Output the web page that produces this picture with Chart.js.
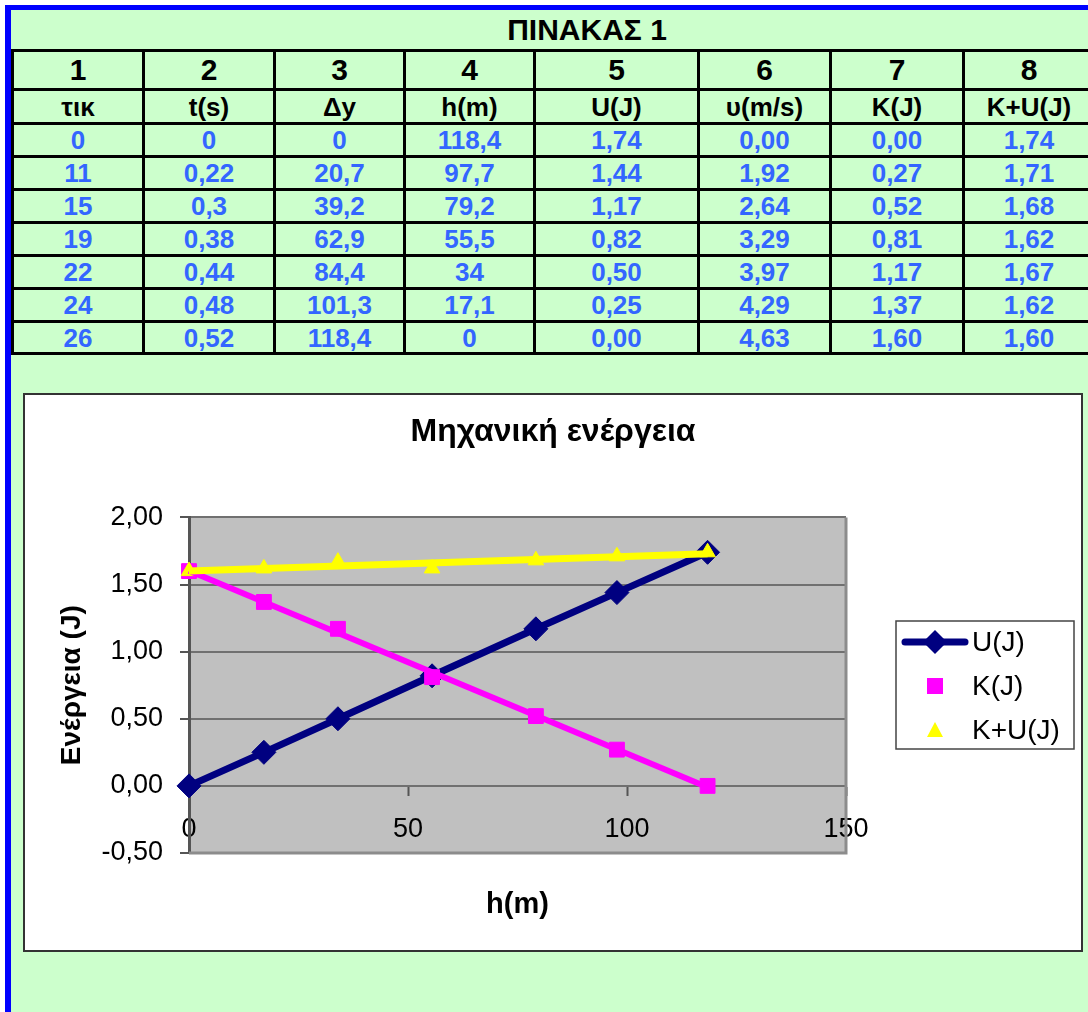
<!DOCTYPE html>
<html>
<head>
<meta charset="utf-8">
<script src="https://cdn.jsdelivr.net/npm/chart.js@4"></script>
<style>
  html, body { margin: 0; padding: 0; }
  body { width: 1088px; height: 1012px; overflow: hidden; position: relative; background: #fff;
         font-family: 'Liberation Sans', Arial, sans-serif; }
  #sheet { position: absolute; left: 5px; top: 5px; width: 1200px; height: 1100px; background: #CCFFCC;
           border-left: 6px solid #0000FF; border-top: 5px solid #0000FF; }
  .ln { position: absolute; background: #000; }
  .cell { position: absolute; display: flex; align-items: center; justify-content: center;
          font-weight: bold; line-height: 1; white-space: nowrap; }
  #chartBox { position: absolute; left: 23px; top: 393px; width: 1060px; height: 559px; box-sizing: border-box;
              border: 2px solid #333; background: #fff; }
  #chartBox canvas { display: block; }
</style>
</head>
<body>
<div id="sheet"></div>
<div id="tbl"></div>
<div id="chartBox"><canvas id="c" width="1056" height="555"></canvas></div>
<script>
// ---- table data (ΠΙΝΑΚΑΣ 1) ----
const tableTitle = 'ΠΙΝΑΚΑΣ 1';
const colNumbers = ['1', '2', '3', '4', '5', '6', '7', '8'];
const colLabels = ['τικ', 't(s)', 'Δy', 'h(m)', 'U(J)', 'υ(m/s)', 'K(J)', 'K+U(J)'];
const tik = [0, 11, 15, 19, 22, 24, 26];
const tSec = [0, 0.22, 0.3, 0.38, 0.44, 0.48, 0.52];
const dy = [0, 20.7, 39.2, 62.9, 84.4, 101.3, 118.4];
const hM = [118.4, 97.7, 79.2, 55.5, 34, 17.1, 0];
const U = [1.74, 1.44, 1.17, 0.82, 0.50, 0.25, 0.00];
const vel = [0.00, 1.92, 2.64, 3.29, 3.97, 4.29, 4.63];
const K = [0.00, 0.27, 0.52, 0.81, 1.17, 1.37, 1.60];
const KU = [1.74, 1.71, 1.68, 1.62, 1.67, 1.62, 1.60];

// ---- chart texts and axis ticks ----
const chartTitle = 'Μηχανική ενέργεια';
const xTitle = 'h(m)';
const yTitle = 'Ενέργεια (J)';
const seriesNames = ['U(J)', 'K(J)', 'K+U(J)'];
const xTicks = [0, 50, 100, 150];
const yTicks = [-0.5, 0, 0.5, 1.0, 1.5, 2.0];

// ---- spreadsheet grid ----
const columns = [tik, tSec, dy, hM, U, vel, K, KU];
const decimals = [null, null, null, null, 2, 2, 2, 2];
const colLines = [11, 142, 273, 403, 533, 697, 829, 962, 1093];
const rowLines = [49, 88, 122, 155, 188, 221, 254, 287, 320, 352];
const LW = 3;

function fmt(v, d) {
  const s = d == null ? String(v) : v.toFixed(d);
  return s.replace('.', ',');
}

const tbl = document.getElementById('tbl');
function addDiv(cls, x, y, w, h, text, style) {
  const d = document.createElement('div');
  d.className = cls;
  d.style.left = x + 'px'; d.style.top = y + 'px';
  d.style.width = w + 'px'; d.style.height = h + 'px';
  if (text != null) d.textContent = text;
  if (style) Object.assign(d.style, style);
  tbl.appendChild(d);
  return d;
}

// title row spanning the merged cells
addDiv('cell', 11, 10, 1152, 39, tableTitle, { fontSize: '30px', color: '#000' });

const rowsText = [colNumbers, colLabels];
for (let r = 0; r < tik.length; r++) {
  rowsText.push(columns.map((col, c) => fmt(col[r], decimals[c])));
}
for (let r = 0; r < rowsText.length; r++) {
  const y0 = rowLines[r] + LW, y1 = rowLines[r + 1];
  for (let c = 0; c < 8; c++) {
    const x0 = colLines[c] + LW, x1 = colLines[c + 1];
    const style = r === 0 ? { fontSize: '30px', color: '#000' }
                : r === 1 ? { fontSize: '26px', color: '#000' }
                : { fontSize: '26px', color: '#3366FF' };
    addDiv('cell', x0, y0, x1 - x0, y1 - y0, rowsText[r][c], style);
  }
}
for (const y of rowLines) addDiv('ln', 11, y, 1200, LW);
for (const x of colLines) addDiv('ln', x, rowLines[0], LW, rowLines[rowLines.length - 1] + LW - rowLines[0]);

// ---- chart ----
const FONT = "'Liberation Sans', Arial, sans-serif";
Chart.defaults.font.family = FONT;
Chart.defaults.color = '#000';

const pts = (ys) => hM.map((x, i) => ({ x: x, y: ys[i] }));

// least-squares linear trendline over the range of h
function linearTrend(xs, ys) {
  const n = xs.length;
  const mx = xs.reduce((a, b) => a + b, 0) / n;
  const my = ys.reduce((a, b) => a + b, 0) / n;
  let sxy = 0, sxx = 0;
  for (let i = 0; i < n; i++) { sxy += (xs[i] - mx) * (ys[i] - my); sxx += (xs[i] - mx) ** 2; }
  const b = sxy / sxx, a = my - b * mx;
  const lo = Math.min(...xs), hi = Math.max(...xs);
  return [{ x: lo, y: a + b * lo }, { x: hi, y: a + b * hi }];
}

const NAVY = '#000080', MAGENTA = '#FF00FF', YELLOW = '#FFFF00';

const plotFrame = {
  id: 'plotFrame',
  beforeDraw(chart) {
    const { ctx, chartArea: a } = chart;
    ctx.save();
    ctx.fillStyle = '#C0C0C0';
    ctx.fillRect(a.left, a.top, a.right - a.left, a.bottom - a.top);
    ctx.restore();
  },
  beforeDatasetsDraw(chart) {
    const { ctx, chartArea: a } = chart;
    ctx.save();
    ctx.strokeStyle = '#8c8c8c';
    ctx.lineWidth = 3;
    ctx.beginPath();
    ctx.moveTo(a.left, a.bottom);
    ctx.lineTo(a.right, a.bottom);
    ctx.lineTo(a.right, a.top);
    ctx.stroke();
    ctx.restore();
  }
};

const boxedLegend = {
  id: 'boxedLegend',
  afterDraw(chart) {
    const { ctx } = chart;
    const bx = 871, by = 226, bw = 178, bh = 128;
    ctx.save();
    ctx.strokeStyle = '#444';
    ctx.lineWidth = 1.5;
    ctx.strokeRect(bx, by, bw, bh);
    const sx = 910, tx = 947;
    const rows = [247, 291, 335];
    // U(J): line with diamond
    ctx.strokeStyle = NAVY; ctx.lineWidth = 7; ctx.lineCap = 'round';
    ctx.beginPath(); ctx.moveTo(sx - 30, rows[0]); ctx.lineTo(sx + 30, rows[0]); ctx.stroke();
    ctx.fillStyle = NAVY;
    ctx.beginPath();
    ctx.moveTo(sx - 12, rows[0]); ctx.lineTo(sx, rows[0] - 12); ctx.lineTo(sx + 12, rows[0]); ctx.lineTo(sx, rows[0] + 12);
    ctx.closePath(); ctx.fill();
    // K(J): square
    ctx.fillStyle = MAGENTA;
    ctx.fillRect(sx - 8, rows[1] - 8, 16, 16);
    // K+U(J): triangle
    ctx.fillStyle = YELLOW;
    ctx.beginPath();
    ctx.moveTo(sx, rows[2] - 8); ctx.lineTo(sx + 8, rows[2] + 7); ctx.lineTo(sx - 8, rows[2] + 7);
    ctx.closePath(); ctx.fill();
    ctx.fillStyle = '#000';
    ctx.font = '28px ' + FONT;
    ctx.textBaseline = 'middle';
    ctx.textAlign = 'left';
    seriesNames.forEach((s, i) => ctx.fillText(s, tx, rows[i] + 1));
    ctx.restore();
  }
};

new Chart(document.getElementById('c'), {
  type: 'scatter',
  data: {
    datasets: [
      { label: 'K+U trend', data: linearTrend(hM, KU), showLine: true, borderColor: YELLOW, borderWidth: 7,
        pointRadius: 0, order: 1, clip: false },
      { label: 'K trend', data: linearTrend(hM, K), showLine: true, borderColor: MAGENTA, borderWidth: 6,
        pointRadius: 0, order: 2, clip: false },
      { label: seriesNames[2], data: pts(KU), showLine: false, pointStyle: 'triangle', pointRadius: 9,
        backgroundColor: YELLOW, borderColor: YELLOW, pointBorderWidth: 1, order: 3, clip: false },
      { label: seriesNames[1], data: pts(K), showLine: false, pointStyle: 'rect', pointRadius: 10.5,
        backgroundColor: MAGENTA, borderColor: MAGENTA, pointBorderWidth: 1, order: 4, clip: false },
      { label: seriesNames[0], data: pts(U), showLine: true, borderColor: NAVY, borderWidth: 7,
        pointStyle: 'rectRot', pointRadius: 12, pointBackgroundColor: NAVY, pointBorderColor: NAVY,
        pointBorderWidth: 1, order: 5, clip: false }
    ]
  },
  options: {
    responsive: false,
    animation: false,
    events: [],
    layout: { padding: { left: 0, right: 0, top: 0, bottom: 97 } },
    plugins: {
      legend: { display: false },
      tooltip: { enabled: false },
      title: { display: true, text: chartTitle, font: { size: 32, weight: 'bold' },
               padding: { top: 18, bottom: 66 }, color: '#000' }
    },
    scales: {
      x: {
        type: 'linear', position: { y: 0 }, min: xTicks[0], max: xTicks[xTicks.length - 1],
        afterBuildTicks(scale) { scale.ticks = xTicks.map(v => ({ value: v })); },
        ticks: { font: { size: 27 }, padding: 18, color: '#000', maxRotation: 0, callback: v => String(v) },
        grid: { drawOnChartArea: false, drawTicks: true, tickLength: 9, tickColor: '#555', tickWidth: 2 },
        border: { display: true, color: '#707070', width: 2 },
        title: { display: true, text: xTitle, font: { size: 29, weight: 'bold' }, padding: { top: 24, bottom: 0 }, color: '#000' }
      },
      y: {
        type: 'linear', min: yTicks[0], max: yTicks[yTicks.length - 1],
        afterBuildTicks(scale) { scale.ticks = yTicks.map(v => ({ value: v })); },
        afterFit(scale) { scale.width = 164; },
        ticks: { font: { size: 27 }, padding: 17, color: '#000', callback: v => v.toFixed(2).replace('.', ',') },
        grid: { color: '#707070', lineWidth: 2, tickLength: 9, tickColor: '#555', tickWidth: 2 },
        border: { display: true, color: '#555', width: 3 },
        title: { display: true, text: yTitle, font: { size: 28, weight: 'bold' }, padding: { top: 30, bottom: 0 }, color: '#000' }
      },
      // empty right-hand band that holds the legend area
      legendBand: {
        type: 'linear', position: 'right', display: true,
        grid: { display: false, drawTicks: false }, ticks: { display: false }, border: { display: false },
        afterFit(scale) { scale.width = 235; }
      }
    }
  },
  plugins: [plotFrame, boxedLegend]
});
</script>
</body>
</html>
